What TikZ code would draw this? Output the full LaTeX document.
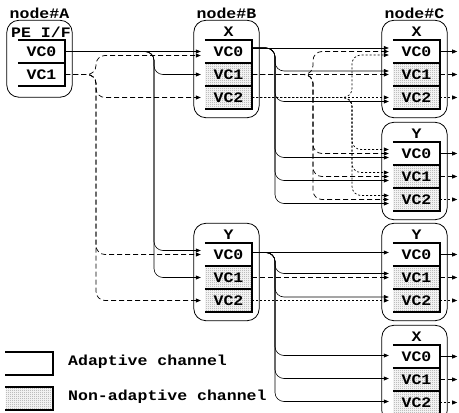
\documentclass[tikz,border=0pt]{standalone}
\usepackage{fontspec}
\newfontfamily\monob{Liberation Mono}[FakeStretch=1.14]
\usetikzlibrary{arrows.meta,patterns}

% fine checkerboard stipple for the non-adaptive buffers
\pgfdeclarepatternformonly{finedots}{\pgfqpoint{0pt}{0pt}}{\pgfqpoint{2pt}{2pt}}{\pgfqpoint{2pt}{2pt}}{%
  \pgfpathrectangle{\pgfqpoint{0pt}{0pt}}{\pgfqpoint{1pt}{1pt}}%
  \pgfpathrectangle{\pgfqpoint{1pt}{1pt}}{\pgfqpoint{1pt}{1pt}}%
  \pgfusepath{fill}}

\tikzset{
  lab/.style={font=\monob\bfseries\fontsize{14.5}{14.5}\selectfont},
  cell/.style={lab, minimum width=47pt, minimum height=23pt, inner sep=0pt},
  nacell/.style={cell, pattern=finedots, pattern color=black!40},
  cellrim/.style={line width=1.6pt},
  router/.style={draw, line width=0.8pt, rounded corners=12pt},
  txt/.style={lab, inner sep=0pt, anchor=base},
  wire/.style={rounded corners=9pt, -{Triangle[length=5pt,width=4pt]}},
  vcA/.style={wire, line width=0.6pt},
  vcB/.style={wire, line width=0.7pt, dash pattern=on 5pt off 3pt},
  vcC/.style={wire, line width=0.7pt, dash pattern=on 2pt off 2pt},
}

% connector: leave horizontally, run along a trunk, enter horizontally
\newcommand\link[4]{\draw[#1] (#2) -- (#2 -| #3) -- (#3 |- #4) -- (#4);}
\newcommand\inport[3]{\coordinate (#1) at ([xshift=-4pt,yshift=#3]#2.west);}
\newcommand\outport[3]{\coordinate (#1) at ([yshift=#3]#2.east);}
% open-left buffer outline
\newcommand\rim[1]{\draw[cellrim] (#1.north west) -- (#1.north east) -- (#1.south east) -- (#1.south west);}
% rounded router outline around a stack of buffers
\newcommand\routerbox[3]{\draw[router] ([xshift=-11pt,yshift=19.5pt]#1.north west) rectangle ([xshift=7pt,yshift=-#3]#2.south east);}

\begin{document}
\begin{tikzpicture}[x=1pt,y=-1pt]
\useasboundingbox (0,0) rectangle (459,413);
\clip (0,0) rectangle (459,413);

% ---------- buffers ----------
\node[cell]   (ax0) at (41.5,51.5) {VC0};
\node[cell]   (ax1) at (41.5,74.5) {VC1};

\node[cell]   (bx0) at (228.5,51.5) {VC0};
\node[nacell] (bx1) at (228.5,74.5) {VC1};
\node[nacell] (bx2) at (228.5,97.5) {VC2};

\node[cell]   (by0) at (228.5,254.5) {VC0};
\node[nacell] (by1) at (228.5,277.5) {VC1};
\node[nacell] (by2) at (228.5,300.5) {VC2};

\node[cell]   (cx0) at (416.5,51.5) {VC0};
\node[nacell] (cx1) at (416.5,74.5) {VC1};
\node[nacell] (cx2) at (416.5,97.5) {VC2};

\node[cell]   (cya0) at (416.5,153.5) {VC0};
\node[nacell] (cya1) at (416.5,176.5) {VC1};
\node[nacell] (cya2) at (416.5,199.5) {VC2};

\node[cell]   (cyb0) at (416.5,254.5) {VC0};
\node[nacell] (cyb1) at (416.5,277.5) {VC1};
\node[nacell] (cyb2) at (416.5,300.5) {VC2};

\node[cell]   (cxb0) at (416.5,356.5) {VC0};
\node[nacell] (cxb1) at (416.5,379.5) {VC1};
\node[nacell] (cxb2) at (416.5,402.5) {VC2};

\foreach \n in {ax0,ax1,bx0,bx1,bx2,by0,by1,by2,cx0,cx1,cx2,cya0,cya1,cya2,cyb0,cyb1,cyb2,cxb0,cxb1,cxb2}
  {\rim{\n}}

% ---------- routers ----------
\routerbox{ax0}{ax1}{11pt}
\routerbox{bx0}{bx2}{8.5pt}
\routerbox{by0}{by2}{8.5pt}
\routerbox{cx0}{cx2}{8.5pt}
\routerbox{cya0}{cya2}{8.5pt}
\routerbox{cyb0}{cyb2}{8.5pt}
\routerbox{cxb0}{cxb2}{8.5pt}

\node[txt] (tagA) at (39.5,18) {node\#A};
\node[txt] (tagB) at (226.5,18) {node\#B};
\node[txt] (tagC) at (414.5,18) {node\#C};
\node[txt] (pe)   at (41,37.5) {PE I/F};
\node[txt] (dbx)  at (228.5,36.5) {X};
\node[txt] (dby)  at (228.5,239) {Y};
\node[txt] (dcx)  at (416.5,36.5) {X};
\node[txt] (dcya) at (416.5,138) {Y};
\node[txt] (dcyb) at (416.5,239) {Y};
\node[txt] (dcxb) at (416.5,341) {X};

% ---------- ports ----------
\outport{ax0o}{ax0}{0pt}  \outport{ax1o}{ax1}{0pt}
\outport{bx0o}{bx0}{3.5pt} \outport{bx1o}{bx1}{0pt} \outport{bx2o}{bx2}{0pt}
\outport{by0o}{by0}{2pt}  \outport{by1o}{by1}{0pt} \outport{by2o}{by2}{0pt}

\inport{bx0-a}{bx0}{0pt}   \inport{bx0-b}{bx0}{-4pt}
\inport{bx1-a}{bx1}{0pt}
\inport{bx2-b}{bx2}{0pt}
\inport{by0-a}{by0}{4pt}   \inport{by0-b}{by0}{0pt}
\inport{by1-a}{by1}{0pt}
\inport{by2-b}{by2}{0pt}

\inport{cx0-a}{cx0}{3.5pt} \inport{cx0-b}{cx0}{0pt} \inport{cx0-c}{cx0}{-3.5pt}
\inport{cx1-a}{cx1}{3.5pt} \inport{cx1-b}{cx1}{0pt}
\inport{cx2-c}{cx2}{0pt}   \inport{cx2-a}{cx2}{-4pt}
\foreach \k in {0,1,2}{
  \inport{cya\k-c}{cya\k}{4pt}
  \inport{cya\k-b}{cya\k}{0pt}
  \inport{cya\k-a}{cya\k}{-4pt}
  \inport{cxb\k-a}{cxb\k}{1pt}
}
\inport{cyb0-a}{cyb0}{2pt}
\inport{cyb1-a}{cyb1}{4pt}   \inport{cyb1-b}{cyb1}{0pt}
\inport{cyb2-a}{cyb2}{3.5pt} \inport{cyb2-c}{cyb2}{0pt}

% trunk lines
\coordinate (tA0) at (154,0);
\coordinate (tA1) at (96,0);
\coordinate (tB0) at (275,0);
\coordinate (tB1) at (313,0);
\coordinate (tB2) at (352,0);

% ---------- node#A -> node#B ----------
\draw[vcA] (ax0o) -- (bx0-a);
\link{vcA}{ax0o}{tA0}{bx1-a}
\link{vcA}{ax0o}{tA0}{by0-a}
\link{vcA}{ax0o}{tA0}{by1-a}
\link{vcB}{ax1o}{tA1}{bx0-b}
\link{vcB}{ax1o}{tA1}{bx2-b}
\link{vcB}{ax1o}{tA1}{by0-b}
\link{vcB}{ax1o}{tA1}{by2-b}

% ---------- node#B (X) -> node#C ----------
\draw[vcA] (bx0o) -- (cx0-a);
\foreach \t in {cx1-a,cx2-a,cya0-a,cya1-a,cya2-a}{\link{vcA}{bx0o}{tB0}{\t}}
\draw[vcB] (bx1o) -- (cx1-b);
\foreach \t in {cx0-b,cya0-b,cya1-b,cya2-b}{\link{vcB}{bx1o}{tB1}{\t}}
\draw[vcC] (bx2o) -- (cx2-c);
\foreach \t in {cx0-c,cya0-c,cya1-c,cya2-c}{\link{vcC}{bx2o}{tB2}{\t}}

% ---------- node#B (Y) -> node#C ----------
\draw[vcA] (by0o) -- (cyb0-a);
\foreach \t in {cyb1-a,cyb2-a,cxb0-a,cxb1-a,cxb2-a}{\link{vcA}{by0o}{tB0}{\t}}
\draw[vcB] (by1o) -- (cyb1-b);
\draw[vcC] (by2o) -- (cyb2-c);

% ---------- node#C outputs ----------
\foreach \g in {cx,cya,cyb,cxb}{
  \coordinate (\g0-out) at ([xshift=17pt]\g0.east);
  \coordinate (\g1-out) at ([xshift=17pt]\g1.east);
  \coordinate (\g2-out) at ([xshift=17pt]\g2.east);
  \draw[vcA] (\g0.east) -- (\g0-out);
  \draw[vcB] (\g1.east) -- (\g1-out);
  \draw[vcC] (\g2.east) -- (\g2-out);
}

% ---------- legend ----------
\node[cell]   (legA) at (29,363.5) {};
\node[nacell] (legN) at (29,398.5) {};
\rim{legA} \rim{legN}
\node[txt, anchor=base west] (legAt) at (68,365) {Adaptive channel};
\node[txt, anchor=base west] (legNt) at (68,400) {Non-adaptive channel};
\end{tikzpicture}
\end{document}
